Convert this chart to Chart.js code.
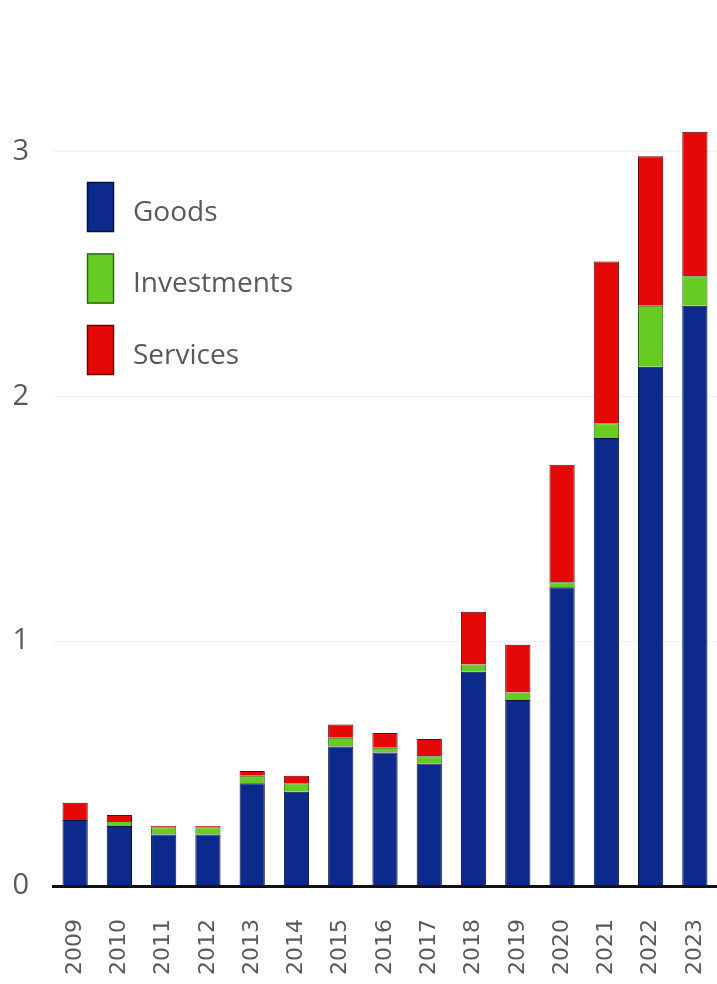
<!DOCTYPE html>
<html>
<head>
<meta charset="utf-8">
<script src="https://cdn.jsdelivr.net/npm/chart.js@4.4.0/dist/chart.umd.min.js"></script>
<style>
  body { margin: 0; background: #fff; }
  #box { width: 717px; height: 984px; }
</style>
</head>
<body>
<div id="box"><canvas id="bars" width="717" height="984"></canvas></div>
<script>
// years on the x axis
const years = ['2009','2010','2011','2012','2013','2014','2015','2016','2017','2018','2019','2020','2021','2022','2023']

// stacked series
const goods       = [0.27, 0.245, 0.21, 0.21, 0.42, 0.385, 0.57, 0.545, 0.50, 0.875, 0.76, 1.22, 1.83, 2.12, 2.37]
const investments = [0.00, 0.02, 0.03, 0.03, 0.03, 0.035, 0.035, 0.02, 0.03, 0.03, 0.03, 0.02, 0.06, 0.25, 0.12]
const services    = [0.07, 0.025, 0.005, 0.005, 0.02, 0.03, 0.055, 0.06, 0.07, 0.215, 0.195, 0.48, 0.66, 0.61, 0.59]

const yTicks = [0, 1, 2, 3]

const grey = '#595959'

// legend drawn inside the plot, top left
const boxLegend = {
  id: 'boxLegend',
  afterDraw(chart) {
    let ctx = chart.ctx
    ctx.save()
    chart.data.datasets.forEach((ds, i) => {
      let y = 182 + i * 71.5
      ctx.fillStyle = ds.backgroundColor
      ctx.fillRect(87, y, 27, 50)
      ctx.strokeStyle = ds.borderColor
      ctx.lineWidth = 1.5
      ctx.strokeRect(87.5, y + 0.5, 26, 49)
      ctx.fillStyle = grey
      ctx.font = '28px "Open Sans"'
      ctx.textBaseline = 'middle'
      ctx.fillText(ds.label, 133, y + 31)
    })
    ctx.restore()
  }
}

new Chart(document.getElementById('bars'), {
  type: 'bar',
  data: {
    labels: years,
    datasets: [
      { label: 'Goods', data: goods, backgroundColor: '#0b2a8c', borderColor: '#06123f' },
      { label: 'Investments', data: investments, backgroundColor: '#66cc22', borderColor: '#2f6a10' },
      { label: 'Services', data: services, backgroundColor: '#e60707', borderColor: '#6a0000' }
    ]
  },
  options: {
    responsive: false,
    animation: false,
    layout: { padding: { top: 122, left: 0, right: 0, bottom: 0 } },
    datasets: {
      bar: { borderWidth: 1, categoryPercentage: 0.57, barPercentage: 1 }
    },
    plugins: {
      legend: { display: false },
      tooltip: { enabled: false }
    },
    scales: {
      x: {
        stacked: true,
        grid: { display: false, drawTicks: false },
        border: { color: '#111', width: 3 },
        ticks: {
          minRotation: 90, maxRotation: 90, padding: 33,
          color: grey, font: { family: 'DejaVu Sans', size: 22 }
        },
        afterFit(scale) {
          scale.height = 98
          // let the plot run to the right edge like the original
          scale.paddingLeft = 0
          scale.paddingRight = 0
        }
      },
      y: {
        stacked: true,
        min: 0,
        max: 3.12,
        grid: { color: '#f1f1f1', drawTicks: false },
        border: { display: false },
        afterBuildTicks(scale) { scale.ticks = yTicks.map(v => ({ value: v })) },
        ticks: {
          padding: 24,
          color: grey, font: { family: 'Open Sans', size: 29 }
        },
        afterFit(scale) { scale.width = 53 }
      }
    }
  },
  plugins: [boxLegend]
})
</script>
</body>
</html>
